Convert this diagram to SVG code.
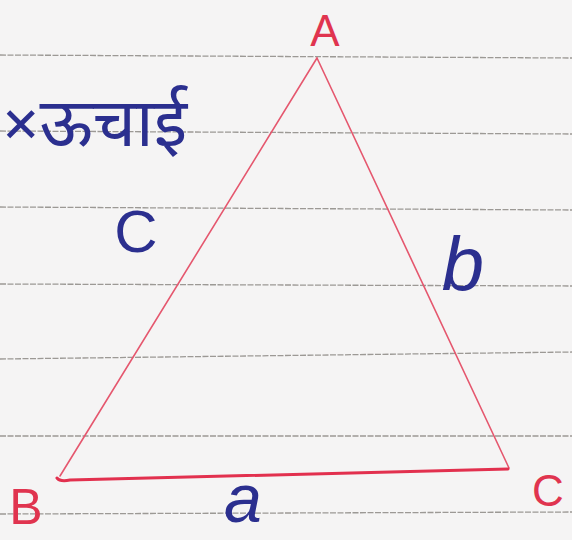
<svg xmlns="http://www.w3.org/2000/svg" width="572" height="540" viewBox="0 0 572 540">
<style>
.rule{stroke:#8c8884;stroke-width:1.3;stroke-dasharray:6 1.5;fill:none;opacity:.85}
.side{stroke:#e5576e;stroke-width:1.6;fill:none;stroke-linecap:round}
.base{stroke:#e2304e;stroke-width:3;fill:none;stroke-linecap:round}
.red{fill:#e0344f;font-family:"Liberation Sans",sans-serif}
.ink{fill:#2b2f8f;font-family:"Liberation Sans",sans-serif}
.hin{fill:#2b2f8f;font-family:"Noto Sans Devanagari","Lohit Devanagari","Noto Sans","DejaVu Sans",sans-serif}
</style>
<rect width="572" height="540" fill="#f5f4f4"/>
<g id="paper-lines">
<line class="rule" x1="0" y1="55" x2="572" y2="58"/>
<line class="rule" x1="0" y1="131" x2="572" y2="134"/>
<line class="rule" x1="0" y1="207" x2="572" y2="210"/>
<line class="rule" x1="0" y1="284" x2="572" y2="286"/>
<line class="rule" x1="0" y1="359" x2="572" y2="352"/>
<line class="rule" x1="0" y1="436" x2="572" y2="436"/>
<line class="rule" x1="0" y1="514" x2="572" y2="512"/>
</g>
<g id="connectors">
<path class="side" d="M317,58 L60,476"/>
<path class="side" d="M317,58 L509,468"/>
<path class="base" d="M57,478 Q60,482 70,480 L508,469"/>
</g>
<g id="vertex-A"><text class="red" x="325" y="46" font-size="44" text-anchor="middle">A</text></g>
<g id="vertex-B"><text class="red" x="26" y="524" font-size="50" text-anchor="middle">B</text></g>
<g id="vertex-C"><text class="red" x="548" y="506" font-size="44" text-anchor="middle">C</text></g>
<g id="side-a"><text class="ink" x="243" y="522" font-size="68" font-style="italic" text-anchor="middle">a</text></g>
<g id="side-b"><text class="ink" x="463" y="290" font-size="76" font-style="italic" text-anchor="middle">b</text></g>
<g id="side-c"><text class="ink" x="136" y="252" font-size="60" text-anchor="middle">C</text></g>
<g id="label-height"><text class="hin" x="2" y="146" font-size="68">×ऊचाई</text></g>
</svg>
